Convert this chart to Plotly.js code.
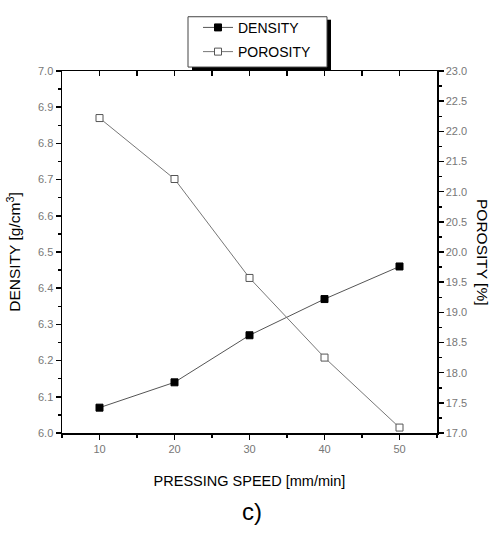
<!DOCTYPE html>
<html><head><meta charset="utf-8">
<script src="https://cdn.plot.ly/plotly-3.0.1.min.js"></script>
<style>body{margin:0;background:#fff}#c{width:493px;height:533px}</style>
</head><body><div id="c"></div>
<script>
const speed = [10, 20, 30, 40, 50];
const density = [6.07, 6.14, 6.27, 6.37, 6.46];
const porosity = [22.22, 21.21, 19.57, 18.25, 17.09];

const FONT = 'Liberation Sans, Arial';
const tickFont = {family: FONT, size: 11, color: '#777'};
const traces = [
  {x: speed, y: density, name: 'DENSITY', type: 'scatter', mode: 'lines+markers', yaxis: 'y',
   legendgroup: 'a',
   line: {color: '#555', width: 1},
   marker: {symbol: 'square', size: 7, color: '#000', line: {color: '#000', width: 1}}},
  {x: speed, y: porosity, name: 'POROSITY', type: 'scatter', mode: 'lines+markers', yaxis: 'y2',
   legendgroup: 'b',
   line: {color: '#777', width: 1},
   marker: {symbol: 'square', size: 7, color: '#fff', line: {color: '#555', width: 1}}},
  {x: [5, 55], y: [6.5, 6.5], xaxis: 'x2', yaxis: 'y', type: 'scatter', mode: 'markers',
   marker: {opacity: 0, size: 1}, showlegend: false, hoverinfo: 'skip'}
];
const axBase = {showgrid: false, zeroline: false, showline: true, linecolor: '#000', linewidth: 1.5,
  ticks: 'outside', ticklen: 5, tickwidth: 1.5, tickcolor: '#000', tickfont: tickFont};
const PL = 62, PW = 375, PB = 433, PH = 367;
const px = v => (v - PL) / PW, py = v => (PB - v) / PH;
const layout = {
  width: 493, height: 533,
  margin: {l: 62, r: 56, t: 66, b: 100},
  paper_bgcolor: '#fff', plot_bgcolor: '#fff',
  showlegend: true,
  legend: {x: px(198), y: py(6), xanchor: 'left', yanchor: 'top', bgcolor: 'rgba(0,0,0,0)',
    borderwidth: 0, font: {family: FONT, size: 14, color: '#000'},
    traceorder: 'grouped', tracegroupgap: 3},
  xaxis: Object.assign({}, axBase, {range: [5, 55], tickvals: [10, 20, 30, 40, 50],
    minor: {tickvals: [5, 15, 25, 35, 45, 55], ticklen: 3, tickwidth: 1.5, tickcolor: '#000', ticks: 'outside'},
    title: {text: 'PRESSING SPEED [mm/min]', font: {family: FONT, size: 14.5, color: '#000'}, standoff: 22}}),
  xaxis2: {overlaying: 'x', side: 'top', range: [5, 55], tickmode: 'linear', dtick: 5, tick0: 5,
    ticks: 'inside', ticklen: 5, tickwidth: 1.5, tickcolor: '#000', showticklabels: false,
    showgrid: false, zeroline: false, showline: true, linecolor: '#000', linewidth: 1.5},
  yaxis: Object.assign({}, axBase, {range: [6.0, 7.0], dtick: 0.1, tickformat: '.1f',
    minor: {dtick: 0.05, ticklen: 3, tickwidth: 1.5, tickcolor: '#000', ticks: 'outside'},
    title: {text: 'DENSITY [g/cm<sup>3</sup>]', font: {family: FONT, size: 15.5, color: '#000'}, standoff: 13}}),
  yaxis2: Object.assign({}, axBase, {range: [17.0, 23.0], dtick: 0.5, tickformat: '.1f', overlaying: 'y', side: 'right',
    minor: {dtick: 0.25, ticklen: 3, tickwidth: 1.5, tickcolor: '#000', ticks: 'outside'}}),
  shapes: [
    {type: 'line', xref: 'paper', yref: 'paper', x0: px(329), x1: px(329), y0: py(14), y1: py(65),
     line: {color: '#000', width: 4}, layer: 'above'},
    {type: 'line', xref: 'paper', yref: 'paper', x0: px(192), x1: px(331), y0: py(64), y1: py(64),
     line: {color: '#000', width: 4}, layer: 'above'},
    {type: 'rect', xref: 'paper', yref: 'paper', x0: px(188), x1: px(327), y0: py(62), y1: py(11),
     line: {color: '#444', width: 1}, layer: 'above'}
  ],
  annotations: [
    {text: 'POROSITY [%]', xref: 'paper', yref: 'paper', x: px(483), y: 0.5, xanchor: 'center', yanchor: 'middle',
     showarrow: false, textangle: 90, font: {family: FONT, size: 15.5, color: '#000'}},
    {text: 'c)', xref: 'paper', yref: 'paper', x: px(252), y: py(513), xanchor: 'center', yanchor: 'middle',
     showarrow: false, font: {family: 'Liberation Sans Narrow, Liberation Sans, Arial', size: 24, color: '#000'}}
  ]
};
Plotly.newPlot('c', traces, layout, {displayModeBar: false, staticPlot: true});
</script></body></html>
